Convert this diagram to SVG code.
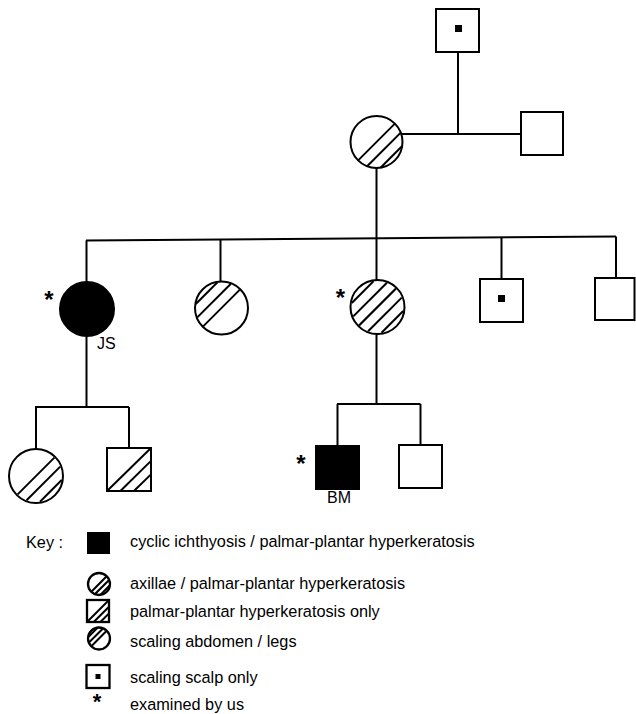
<svg xmlns="http://www.w3.org/2000/svg" width="636" height="714" viewBox="0 0 636 714">
<style>
.sym{fill:#fff;stroke:#000;stroke-width:2}
.fill{fill:#000;stroke:#000;stroke-width:2}
.h{stroke:#000;stroke-width:2;fill:none}
.ksym{fill:#fff;stroke:#000;stroke-width:2.3}
.kh{stroke:#000;stroke-width:2;fill:none}
.ln{stroke:#000;stroke-width:2;fill:none}
text{font-family:"Liberation Sans",Arial,sans-serif;fill:#000}
.lbl{font-size:16px}
.klbl{font-size:16.3px}
.ast{font-size:24px;font-weight:bold}
</style>
<defs>
<g id="hLR">
<line class="h" x1="-18.38" y1="18.38" x2="18.38" y2="-18.38"/>
<line class="h" x1="-9.4" y1="24.24" x2="24.24" y2="-9.4"/>
<line class="h" x1="4.01" y1="25.69" x2="25.69" y2="4.01"/>
</g>
<g id="hUL">
<line class="h" x1="-18.38" y1="18.38" x2="18.38" y2="-18.38"/>
<line class="h" x1="-24.24" y1="9.4" x2="9.4" y2="-24.24"/>
<line class="h" x1="-25.69" y1="-4.01" x2="-4.01" y2="-25.69"/>
</g>
</defs>

<g id="connectors">
<line class="ln" x1="458" y1="52" x2="458" y2="134"/>
<line class="ln" x1="401" y1="134" x2="521" y2="134"/>
<line class="ln" x1="376.5" y1="168" x2="376.5" y2="280"/>
<line class="ln" x1="86" y1="240.5" x2="616" y2="236.5"/>
<line class="ln" x1="86.5" y1="240.5" x2="86.5" y2="282"/>
<line class="ln" x1="220.5" y1="239.5" x2="220.5" y2="282"/>
<line class="ln" x1="501.5" y1="237.4" x2="501.5" y2="279"/>
<line class="ln" x1="616" y1="236.5" x2="616" y2="278"/>
<line class="ln" x1="86.5" y1="336" x2="86.5" y2="407"/>
<line class="ln" x1="35" y1="407" x2="129" y2="407"/>
<line class="ln" x1="36" y1="407" x2="36" y2="449"/>
<line class="ln" x1="129" y1="407" x2="129" y2="448"/>
<line class="ln" x1="376.5" y1="334" x2="376.5" y2="404"/>
<line class="ln" x1="337" y1="404" x2="420.5" y2="404"/>
<line class="ln" x1="337.5" y1="404" x2="337.5" y2="446"/>
<line class="ln" x1="420.5" y1="404" x2="420.5" y2="445"/>
</g>

<g id="grandfather">
<rect class="sym" x="436" y="9" width="43" height="43"/>
<rect x="455" y="25" width="7" height="7" fill="#000"/>
</g>
<g id="grandmother" transform="translate(376.5,142)">
<circle class="sym" r="26"/>
<use href="#hLR"/>
</g>
<g id="husband">
<rect class="sym" x="521" y="112" width="42" height="43"/>
</g>

<g id="JS">
<circle class="fill" cx="87" cy="309" r="27"/>
<text class="ast" x="49" y="308" text-anchor="middle">*</text>
<text class="lbl" x="97" y="349">JS</text>
</g>
<g id="daughter2" transform="translate(221.5,308)">
<circle class="sym" r="26.5"/>
<use href="#hUL"/>
</g>
<g id="daughter3" transform="translate(377.5,307)">
<circle class="sym" r="27"/>
<use href="#hLR"/>
<use href="#hUL"/>
<text class="ast" x="-37" y="-1" text-anchor="middle">*</text>
</g>
<g id="son1">
<rect class="sym" x="480" y="279" width="43" height="43"/>
<rect x="498" y="295" width="7" height="7" fill="#000"/>
</g>
<g id="son2">
<rect class="sym" x="595" y="278" width="39.5" height="42"/>
</g>

<g id="grandchild1" transform="translate(36,476)">
<circle class="sym" r="27"/>
<use href="#hLR"/>
</g>
<g id="grandchild2" transform="translate(129,469.5)">
<rect class="sym" x="-22" y="-21.5" width="44" height="43"/>
<line class="h" x1="-22" y1="21.5" x2="22" y2="-21.5"/>
<line class="h" x1="-8.6" y1="21.5" x2="22" y2="-8.6"/>
<line class="h" x1="4.9" y1="21.5" x2="22" y2="4.9"/>
</g>
<g id="BM">
<rect class="fill" x="316" y="446" width="43" height="43"/>
<text class="ast" x="301" y="472" text-anchor="middle">*</text>
<text class="lbl" x="327" y="503">BM</text>
</g>
<g id="grandchild4">
<rect class="sym" x="399" y="445" width="43" height="43"/>
</g>

<g id="key">
<text class="klbl" x="26" y="548">Key :</text>
<rect x="87" y="532" width="23" height="22" fill="#000"/>
<text class="klbl" x="130" y="547">cyclic ichthyosis / palmar-plantar hyperkeratosis</text>

<g transform="translate(99,584)">
<circle class="ksym" r="11"/>
<line class="kh" x1="-7.42" y1="7.42" x2="7.42" y2="-7.42"/>
<line class="kh" x1="-3.73" y1="9.81" x2="9.81" y2="-3.73"/>
<line class="kh" x1="1.82" y1="10.34" x2="10.34" y2="1.82"/>
</g>
<text class="klbl" x="130" y="589">axillae / palmar-plantar hyperkeratosis</text>

<g transform="translate(98,611)">
<rect class="ksym" x="-11" y="-11" width="22" height="22"/>
<line class="kh" x1="-11" y1="11" x2="11" y2="-11"/>
<line class="kh" x1="-4.3" y1="11" x2="11" y2="-4.3"/>
<line class="kh" x1="2.4" y1="11" x2="11" y2="2.4"/>
</g>
<text class="klbl" x="130" y="617">palmar-plantar hyperkeratosis only</text>

<g transform="translate(99,638.5)">
<circle class="ksym" r="11"/>
<line class="kh" x1="-7.42" y1="7.42" x2="7.42" y2="-7.42"/>
<line class="kh" x1="-9.81" y1="3.73" x2="3.73" y2="-9.81"/>
<line class="kh" x1="-10.34" y1="-1.82" x2="-1.82" y2="-10.34"/>
</g>
<text class="klbl" x="130" y="647">scaling abdomen / legs</text>

<g transform="translate(98,676.5)">
<rect class="ksym" x="-11.5" y="-11.5" width="23" height="23"/>
<rect x="-2.5" y="-2.5" width="5" height="5" fill="#000"/>
</g>
<text class="klbl" x="130" y="683">scaling scalp only</text>

<text x="97" y="709" font-size="22" font-weight="bold" text-anchor="middle">*</text>
<text class="klbl" x="130" y="710">examined by us</text>
</g>
</svg>
